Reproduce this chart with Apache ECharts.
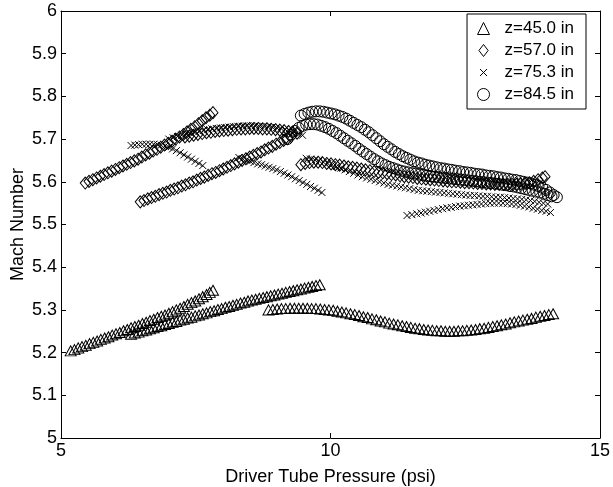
<!DOCTYPE html>
<html><head><meta charset="utf-8">
<script src="https://cdn.jsdelivr.net/npm/echarts@6/dist/echarts.min.js"></script>
<style>html,body{margin:0;padding:0;background:#fff}#c{width:613px;height:487px}</style>
</head><body><div id="c"></div>
<script>
const seriesNames = ['z=45.0 in','z=57.0 in','z=75.3 in','z=84.5 in'];
const xTicks = [5,10,15];
const yTicks = [5,5.1,5.2,5.3,5.4,5.5,5.6,5.7,5.8,5.9,6];

// z=45.0 in (triangles), three runs
const tri1 = [[5.18,5.204],[5.25,5.207],[5.32,5.211],[5.39,5.214],[5.46,5.217],[5.53,5.221],[5.60,5.224],[5.67,5.227],[5.74,5.231],[5.81,5.234],[5.88,5.237],[5.95,5.241],[6.02,5.244],[6.09,5.247],[6.16,5.251],[6.23,5.254],[6.30,5.258],[6.37,5.261],[6.44,5.264],[6.51,5.268],[6.58,5.271],[6.65,5.275],[6.72,5.278],[6.79,5.282],[6.86,5.285],[6.93,5.288],[7.00,5.292],[7.07,5.296],[7.14,5.300],[7.21,5.304],[7.28,5.308],[7.35,5.313],[7.42,5.317],[7.49,5.321],[7.56,5.326],[7.63,5.331],[7.70,5.336],[7.76,5.341],[7.82,5.346]];
const tri2 = [[6.30,5.243],[6.37,5.246],[6.44,5.248],[6.51,5.251],[6.58,5.253],[6.65,5.256],[6.72,5.258],[6.79,5.261],[6.86,5.263],[6.93,5.266],[7.00,5.268],[7.07,5.271],[7.14,5.273],[7.21,5.276],[7.28,5.278],[7.35,5.281],[7.42,5.283],[7.49,5.286],[7.56,5.288],[7.63,5.291],[7.70,5.293],[7.77,5.296],[7.84,5.298],[7.91,5.301],[7.98,5.303],[8.05,5.306],[8.12,5.308],[8.19,5.311],[8.26,5.313],[8.33,5.316],[8.40,5.318],[8.47,5.321],[8.54,5.323],[8.61,5.325],[8.68,5.327],[8.75,5.329],[8.82,5.331],[8.89,5.333],[8.96,5.335],[9.03,5.337],[9.10,5.339],[9.17,5.341],[9.24,5.343],[9.31,5.345],[9.38,5.347],[9.45,5.349],[9.52,5.351],[9.59,5.353],[9.66,5.355],[9.73,5.357],[9.80,5.359]];
const tri3 = [[8.85,5.300],[8.93,5.301],[9.01,5.302],[9.09,5.303],[9.17,5.303],[9.25,5.304],[9.33,5.304],[9.41,5.304],[9.49,5.304],[9.57,5.304],[9.65,5.303],[9.73,5.303],[9.81,5.302],[9.89,5.301],[9.97,5.300],[10.05,5.299],[10.13,5.297],[10.21,5.295],[10.29,5.293],[10.37,5.291],[10.45,5.289],[10.53,5.287],[10.61,5.284],[10.69,5.282],[10.77,5.279],[10.85,5.277],[10.93,5.274],[11.01,5.272],[11.09,5.269],[11.17,5.267],[11.25,5.265],[11.33,5.263],[11.41,5.261],[11.49,5.259],[11.57,5.257],[11.65,5.256],[11.73,5.254],[11.81,5.253],[11.89,5.252],[11.97,5.251],[12.05,5.251],[12.13,5.250],[12.21,5.250],[12.29,5.250],[12.37,5.251],[12.45,5.251],[12.53,5.252],[12.61,5.253],[12.69,5.254],[12.77,5.256],[12.85,5.257],[12.93,5.259],[13.01,5.261],[13.09,5.263],[13.17,5.265],[13.25,5.267],[13.33,5.270],[13.41,5.272],[13.49,5.274],[13.57,5.276],[13.65,5.278],[13.73,5.280],[13.81,5.283],[13.89,5.285],[13.97,5.287],[14.05,5.289],[14.13,5.291]];

// z=57.0 in (diamonds), four runs
const dia1 = [[5.45,5.597],[5.52,5.601],[5.59,5.605],[5.66,5.609],[5.73,5.613],[5.80,5.617],[5.87,5.621],[5.94,5.625],[6.01,5.629],[6.08,5.633],[6.15,5.637],[6.22,5.641],[6.29,5.645],[6.36,5.649],[6.43,5.653],[6.50,5.658],[6.57,5.663],[6.64,5.667],[6.71,5.672],[6.78,5.676],[6.85,5.681],[6.92,5.686],[6.99,5.690],[7.06,5.695],[7.13,5.700],[7.20,5.705],[7.27,5.711],[7.34,5.717],[7.41,5.723],[7.48,5.729],[7.55,5.736],[7.62,5.743],[7.69,5.750],[7.76,5.756],[7.82,5.762]];
const dia2 = [[6.47,5.553],[6.54,5.556],[6.61,5.560],[6.68,5.563],[6.75,5.566],[6.82,5.570],[6.89,5.573],[6.96,5.576],[7.03,5.580],[7.10,5.583],[7.17,5.586],[7.24,5.590],[7.31,5.593],[7.38,5.597],[7.45,5.600],[7.52,5.604],[7.59,5.608],[7.66,5.611],[7.73,5.615],[7.80,5.619],[7.87,5.622],[7.94,5.626],[8.01,5.630],[8.08,5.634],[8.15,5.638],[8.22,5.642],[8.29,5.646],[8.36,5.650],[8.43,5.654],[8.50,5.658],[8.57,5.662],[8.64,5.666],[8.71,5.670],[8.78,5.675],[8.85,5.679],[8.92,5.683],[8.99,5.688],[9.06,5.692],[9.13,5.697],[9.20,5.701],[9.27,5.706]];
const dia3 = [[7.30,5.705],[7.38,5.707],[7.46,5.709],[7.54,5.711],[7.62,5.713],[7.70,5.715],[7.78,5.716],[7.86,5.718],[7.94,5.719],[8.02,5.720],[8.10,5.721],[8.18,5.722],[8.26,5.723],[8.34,5.724],[8.42,5.724],[8.50,5.725],[8.58,5.725],[8.66,5.725],[8.74,5.724],[8.82,5.724],[8.90,5.723],[8.98,5.722],[9.06,5.721],[9.14,5.720],[9.22,5.718],[9.30,5.716],[9.38,5.714]];
const dia4 = [[9.45,5.640],[9.53,5.643],[9.61,5.645],[9.69,5.646],[9.77,5.646],[9.85,5.645],[9.93,5.643],[10.01,5.642],[10.09,5.640],[10.17,5.639],[10.25,5.637],[10.33,5.635],[10.41,5.634],[10.49,5.632],[10.57,5.630],[10.65,5.628],[10.73,5.626],[10.81,5.624],[10.89,5.622],[10.97,5.621],[11.05,5.619],[11.13,5.617],[11.21,5.616],[11.29,5.614],[11.37,5.612],[11.45,5.611],[11.53,5.610],[11.61,5.608],[11.69,5.607],[11.77,5.606],[11.85,5.605],[11.93,5.604],[12.01,5.603],[12.09,5.602],[12.17,5.601],[12.25,5.600],[12.33,5.600],[12.41,5.599],[12.49,5.598],[12.57,5.598],[12.65,5.597],[12.73,5.596],[12.81,5.596],[12.89,5.595],[12.97,5.595],[13.05,5.594],[13.13,5.594],[13.21,5.594],[13.29,5.594],[13.37,5.594],[13.45,5.594],[13.53,5.595],[13.61,5.596],[13.69,5.598],[13.77,5.601],[13.85,5.605],[13.93,5.609],[13.98,5.612]];

// z=75.3 in (crosses), five runs
const crs1 = [[6.30,5.685],[6.37,5.686],[6.44,5.687],[6.51,5.688],[6.58,5.688],[6.65,5.688],[6.72,5.688],[6.79,5.687],[6.86,5.686],[6.93,5.684],[7.00,5.681],[7.07,5.677],[7.14,5.673],[7.21,5.668],[7.28,5.663],[7.35,5.658],[7.42,5.653],[7.49,5.648],[7.56,5.643],[7.63,5.638]];
const crs2 = [[7.00,5.700],[7.08,5.703],[7.16,5.706],[7.24,5.709],[7.32,5.712],[7.40,5.714],[7.48,5.716],[7.56,5.718],[7.64,5.720],[7.72,5.722],[7.80,5.724],[7.88,5.725],[7.96,5.726],[8.04,5.727],[8.12,5.728],[8.20,5.729],[8.28,5.730],[8.36,5.730],[8.44,5.731],[8.52,5.731],[8.60,5.731],[8.68,5.730],[8.76,5.730],[8.84,5.729],[8.92,5.728],[9.00,5.727],[9.08,5.725],[9.16,5.723],[9.24,5.720],[9.32,5.717],[9.40,5.713],[9.48,5.709]];
const crs3 = [[8.30,5.657],[8.37,5.654],[8.44,5.651],[8.51,5.648],[8.58,5.645],[8.65,5.642],[8.72,5.640],[8.79,5.637],[8.86,5.634],[8.93,5.631],[9.00,5.628],[9.07,5.624],[9.14,5.620],[9.21,5.616],[9.28,5.612],[9.35,5.607],[9.42,5.603],[9.49,5.598],[9.56,5.594],[9.63,5.589],[9.70,5.585],[9.77,5.580],[9.84,5.575]];
const crs4 = [[9.55,5.655],[9.63,5.653],[9.71,5.651],[9.79,5.649],[9.87,5.646],[9.95,5.643],[10.03,5.640],[10.11,5.636],[10.19,5.632],[10.27,5.628],[10.35,5.624],[10.43,5.620],[10.51,5.616],[10.59,5.612],[10.67,5.609],[10.75,5.606],[10.83,5.603],[10.91,5.600],[10.99,5.597],[11.07,5.594],[11.15,5.592],[11.23,5.590],[11.31,5.588],[11.39,5.586],[11.47,5.584],[11.55,5.582],[11.63,5.580],[11.71,5.579],[11.79,5.578],[11.87,5.577],[11.95,5.576],[12.03,5.575],[12.11,5.574],[12.19,5.573],[12.27,5.572],[12.35,5.571],[12.43,5.570],[12.51,5.569],[12.59,5.568],[12.67,5.568],[12.75,5.567],[12.83,5.566],[12.91,5.566],[12.99,5.565],[13.07,5.564],[13.15,5.564],[13.23,5.563],[13.31,5.562],[13.39,5.561],[13.47,5.560],[13.55,5.559],[13.63,5.558],[13.71,5.556],[13.79,5.554],[13.87,5.552],[13.95,5.550],[14.03,5.548]];
const crs5 = [[11.42,5.521],[11.51,5.523],[11.60,5.525],[11.68,5.527],[11.76,5.529],[11.84,5.531],[11.92,5.533],[12.00,5.535],[12.08,5.537],[12.16,5.539],[12.24,5.540],[12.32,5.542],[12.40,5.543],[12.48,5.544],[12.56,5.545],[12.64,5.546],[12.72,5.547],[12.80,5.548],[12.88,5.549],[12.96,5.550],[13.04,5.550],[13.12,5.550],[13.20,5.550],[13.28,5.549],[13.36,5.548],[13.44,5.547],[13.52,5.545],[13.60,5.543],[13.68,5.541],[13.76,5.538],[13.84,5.536],[13.92,5.533],[14.00,5.531],[14.08,5.528]];

// z=84.5 in (circles), two runs
const cir1 = [[9.45,5.755],[9.52,5.759],[9.59,5.762],[9.66,5.764],[9.73,5.765],[9.80,5.765],[9.87,5.764],[9.94,5.762],[10.01,5.760],[10.08,5.758],[10.15,5.755],[10.22,5.752],[10.29,5.748],[10.36,5.743],[10.43,5.738],[10.50,5.733],[10.57,5.728],[10.64,5.722],[10.71,5.716],[10.78,5.709],[10.85,5.702],[10.92,5.695],[10.99,5.688],[11.06,5.682],[11.13,5.676],[11.20,5.670],[11.27,5.665],[11.34,5.660],[11.41,5.656],[11.48,5.652],[11.55,5.648],[11.62,5.645],[11.69,5.643],[11.76,5.640],[11.83,5.638],[11.90,5.636],[11.97,5.634],[12.04,5.632],[12.11,5.631],[12.18,5.629],[12.25,5.628],[12.32,5.626],[12.39,5.625],[12.46,5.623],[12.53,5.622],[12.60,5.621],[12.67,5.619],[12.74,5.618],[12.81,5.617],[12.88,5.615],[12.95,5.614],[13.02,5.613],[13.09,5.611],[13.16,5.610],[13.23,5.608],[13.30,5.607],[13.37,5.605],[13.44,5.604],[13.51,5.602],[13.58,5.600],[13.65,5.598],[13.72,5.596],[13.79,5.593],[13.86,5.590],[13.93,5.586],[14.00,5.581],[14.07,5.575],[14.14,5.569],[14.20,5.564]];
const cir2 = [[9.20,5.700],[9.27,5.711],[9.34,5.719],[9.41,5.726],[9.48,5.731],[9.55,5.734],[9.62,5.735],[9.69,5.735],[9.76,5.734],[9.83,5.731],[9.90,5.728],[9.97,5.724],[10.04,5.719],[10.11,5.714],[10.18,5.708],[10.25,5.702],[10.32,5.696],[10.39,5.690],[10.46,5.684],[10.53,5.677],[10.60,5.671],[10.67,5.665],[10.74,5.659],[10.81,5.653],[10.88,5.648],[10.95,5.643],[11.02,5.639],[11.09,5.635],[11.16,5.632],[11.23,5.629],[11.30,5.626],[11.37,5.624],[11.44,5.622],[11.51,5.620],[11.58,5.619],[11.65,5.617],[11.72,5.616],[11.79,5.614],[11.86,5.613],[11.93,5.612],[12.00,5.611],[12.07,5.610],[12.14,5.609],[12.21,5.608],[12.28,5.607],[12.35,5.606],[12.42,5.605],[12.49,5.604],[12.56,5.603],[12.63,5.602],[12.70,5.601],[12.77,5.600],[12.84,5.599],[12.91,5.598],[12.98,5.597],[13.05,5.596],[13.12,5.595],[13.19,5.593],[13.26,5.592],[13.33,5.590],[13.40,5.589],[13.47,5.587],[13.54,5.585],[13.61,5.583],[13.68,5.581],[13.75,5.579],[13.82,5.577],[13.89,5.575],[13.96,5.572],[14.03,5.569],[14.10,5.566]];

const FONT = '"Liberation Sans", Arial, Helvetica, sans-serif';
const markerStyles = [
  {symbol:'triangle', symbolSize:[11,10], icon:'triangle'},
  {symbol:'diamond', symbolSize:[10,12], icon:'path://M6,0L11,6.5L6,13L1,6.5Z'},
  {symbol:'path://M0,0L10,10M10,0L0,10', symbolSize:7, icon:'path://M0,0M12,12M2.5,2.5L9.5,9.5M9.5,2.5L2.5,9.5'},
  {symbol:'circle', symbolSize:11, icon:'circle'}
];
const runs = [
  [0,tri1],[0,tri2],[0,tri3],
  [1,dia1],[1,dia2],[1,dia3],[1,dia4],
  [2,crs1],[2,crs2],[2,crs3],[2,crs4],[2,crs5],
  [3,cir1],[3,cir2]
];
const series = runs.map(([k,data]) => ({
  type:'scatter', name:seriesNames[k], data:data,
  symbol:markerStyles[k].symbol, symbolSize:markerStyles[k].symbolSize,
  itemStyle:{color:'rgba(0,0,0,0)', borderColor:'#000', borderWidth:1, opacity:1},
  emphasis:{disabled:true}, silent:true
}));

const axisCommon = {
  type:'value', splitLine:{show:false},
  axisLine:{show:true, onZero:false, lineStyle:{color:'#000', width:1}},
  axisTick:{show:true, inside:true, length:5, lineStyle:{color:'#000'}}
};
const chart = echarts.init(document.getElementById('c'), null, {renderer:'canvas'});
chart.setOption({
  animation:false,
  backgroundColor:'#fff',
  grid:{left:61, right:13, top:11, bottom:49, containLabel:false, outerBoundsMode:'none'},
  legend:{
    data:seriesNames.map((n,i)=>({name:n, icon:markerStyles[i].icon})),
    orient:'vertical', right:27, top:14,
    backgroundColor:'#fff', borderColor:'#000', borderWidth:1,
    padding:[6,12,6,10], itemGap:5, itemWidth:12, itemHeight:12,
    itemStyle:{color:'rgba(0,0,0,0)', borderColor:'#000', borderWidth:1},
    textStyle:{fontFamily:FONT, fontSize:17, color:'#000', padding:[0,0,0,10]},
    selectedMode:false
  },
  xAxis:[
    Object.assign({}, axisCommon, {position:'bottom', min:xTicks[0], max:xTicks[xTicks.length-1], interval:5,
      name:'Driver Tube Pressure (psi)', nameLocation:'middle', nameGap:30,
      nameTextStyle:{fontFamily:FONT, fontSize:18, color:'#000'},
      axisLabel:{fontFamily:FONT, fontSize:18, color:'#000', margin:4}}),
    Object.assign({}, axisCommon, {position:'top', min:5, max:15, interval:5, axisLabel:{show:false}})
  ],
  yAxis:[
    Object.assign({}, axisCommon, {position:'left', min:yTicks[0], max:yTicks[yTicks.length-1], interval:0.1,
      name:'Mach Number', nameLocation:'middle', nameGap:34, nameMoveOverlap:false,
      nameTextStyle:{fontFamily:FONT, fontSize:18, color:'#000'},
      axisLabel:{fontFamily:FONT, fontSize:18, color:'#000', margin:4,
        formatter:(v)=>{const t=yTicks.find(u=>Math.abs(u-v)<1e-6); return t===undefined?'':String(t);}}}),
    Object.assign({}, axisCommon, {position:'right', min:5, max:6, interval:0.1, axisLabel:{show:false}})
  ],
  series:series
});
</script>
</body></html>
